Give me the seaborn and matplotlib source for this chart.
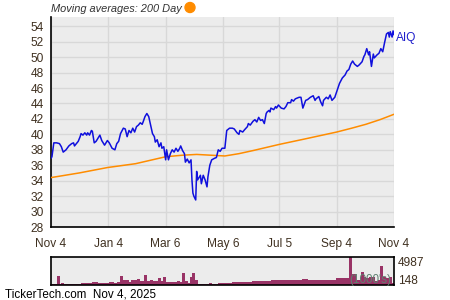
import numpy as np
import pandas as pd
import matplotlib
matplotlib.use("Agg")
import matplotlib.pyplot as plt
import matplotlib.dates as mdates
import seaborn as sns

# ---------------- data ----------------
start_date = "2024-11-04"

price_days = [0, 1, 3, 6, 9, 11, 13, 16, 19, 22, 24, 25, 29, 31, 32, 34, 36, 38, 39, 41,
              43, 44, 46, 48, 52, 54, 57, 60, 62, 65, 68, 70, 72, 74, 77, 79, 81, 83, 85, 87,
              89, 91, 93, 95, 97, 98, 100, 102, 104, 106, 108, 110, 111, 113, 115, 117, 118, 120, 122, 123,
              125, 127, 129, 131, 133, 135, 137, 138, 140, 142, 143, 145, 147, 149, 150, 151, 152, 154, 155, 156,
              157, 159, 160, 162, 164, 166, 167, 169, 171, 174, 176, 178, 180, 182, 185, 186, 187, 190, 193, 195,
              198, 200, 201, 204, 206, 209, 210, 212, 215, 217, 219, 221, 223, 225, 227, 229, 230, 232, 233, 234,
              237, 239, 240, 242, 245, 248, 250, 252, 255, 256, 258, 260, 264, 266, 268, 271, 273, 276, 279, 281,
              282, 285, 287, 289, 290, 293, 295, 297, 299, 302, 305, 307, 310, 313, 315, 317, 319, 321, 323, 326,
              328, 331, 333, 334, 336, 338, 339, 341, 343, 344, 347, 349, 351, 353, 355, 357, 359, 360, 361, 363,
              364, 365]
price_vals = [36.9, 37.1, 38.9, 38.9, 38.8, 38.4, 37.7, 38.0, 38.5, 38.8, 38.9, 38.5, 39.1, 39.7, 40.1, 39.9, 40.2, 39.9, 40.2, 39.9,
              40.5, 40.4, 38.9, 39.1, 39.9, 39.2, 38.6, 39.2, 38.9, 38.2, 38.0, 38.8, 39.1, 40.1, 40.8, 40.7, 39.7, 40.5, 40.2, 40.8,
              40.3, 41.0, 41.2, 41.5, 41.3, 41.6, 42.3, 42.7, 42.3, 41.2, 40.1, 39.7, 39.0, 39.3, 38.4, 38.9, 38.2, 38.4, 36.7, 38.0,
              36.7, 37.5, 38.0, 37.7, 38.2, 37.8, 38.2, 38.5, 37.9, 37.5, 36.4, 36.8, 36.3, 36.7, 34.1, 32.4, 32.0, 31.5, 35.2, 34.1,
              34.3, 34.7, 33.6, 34.7, 34.1, 33.2, 34.5, 36.0, 36.7, 36.9, 37.0, 38.0, 37.8, 38.2, 38.2, 39.3, 40.5, 40.8, 40.8, 40.7,
              40.2, 40.0, 40.5, 40.3, 40.6, 41.0, 41.4, 41.2, 41.7, 41.9, 41.6, 42.2, 41.8, 41.9, 41.4, 42.7, 42.9, 43.1, 42.9, 43.4,
              43.2, 43.6, 43.4, 43.8, 43.4, 43.3, 43.6, 44.1, 44.1, 44.5, 44.3, 44.6, 44.8, 44.8, 43.4, 44.4, 44.5, 44.8, 45.0, 44.4,
              44.6, 44.9, 44.2, 43.7, 44.4, 44.8, 44.6, 45.1, 44.4, 44.8, 45.9, 46.6, 47.3, 47.7, 48.2, 48.4, 49.1, 49.5, 49.1, 48.8,
              49.0, 49.4, 50.1, 50.3, 51.1, 50.3, 50.7, 48.8, 50.4, 49.9, 50.3, 50.5, 51.1, 50.7, 51.9, 53.0, 53.2, 52.6, 53.3, 52.6,
              53.4, 52.9]

ma_days = [0, 30, 60, 90, 122, 140, 155, 170, 185, 200, 215, 243, 270, 304, 320, 335, 350, 365]
ma_vals = [34.4, 35.0, 35.7, 36.2, 37.1, 37.3, 37.4, 37.3, 37.2, 37.5, 37.9, 38.7, 39.4, 40.3, 40.8, 41.3, 41.9, 42.6]

vol_days = [0, 3, 6, 8, 10, 12, 15, 18, 21, 24, 27, 30, 33, 36, 39, 42, 45, 48, 51, 54,
            57, 60, 63, 66, 69, 72, 75, 78, 81, 84, 87, 90, 93, 96, 99, 101, 104, 107, 110, 113,
            115, 118, 121, 124, 127, 130, 133, 136, 139, 141, 144, 146, 149, 152, 155, 158, 161, 164, 167, 170,
            173, 176, 179, 182, 185, 188, 191, 194, 197, 200, 203, 206, 209, 212, 215, 218, 221, 224, 227, 230,
            233, 236, 239, 242, 245, 248, 251, 254, 257, 260, 263, 266, 269, 272, 275, 278, 281, 284, 287, 290,
            293, 296, 299, 302, 305, 308, 311, 314, 317, 319, 321, 323, 325, 328, 331, 334, 337, 340, 343, 346,
            349, 352, 355, 358, 361, 364]
vol_vals = [180, 200, 190, 1500, 180, 420, 200, 190, 210, 180, 200, 220, 360, 340, 380, 360, 480, 450, 420, 300,
            320, 300, 600, 580, 300, 480, 1500, 960, 900, 600, 900, 850, 1080, 660, 620, 1680, 780, 800, 760, 780,
            1260, 660, 1380, 600, 580, 480, 500, 780, 480, 2100, 780, 300, 1380, 2100, 900, 240, 260, 220, 240, 280,
            240, 260, 300, 320, 300, 360, 300, 480, 500, 460, 520, 480, 540, 500, 660, 620, 680, 640, 700, 660,
            680, 900, 860, 920, 880, 940, 900, 860, 920, 900, 880, 960, 1080, 1000, 900, 880, 920, 860, 900, 880,
            940, 900, 860, 900, 1260, 1200, 1260, 1240, 1200, 4987, 1980, 1980, 900, 880, 2280, 1380, 1300, 1380, 1320, 780,
            800, 3300, 1380, 1300, 1380, 300]

y_ticks = list(range(28, 55, 2))
x_tick_dates = ["2024-11-04", "2025-01-04", "2025-03-06", "2025-05-06", "2025-07-05", "2025-09-04", "2025-11-04"]
x_tick_labels = ["Nov 4", "Jan 4", "Mar 6", "May 6", "Jul 5", "Sep 4", "Nov 4"]
vol_labels = ["4987", "148"]
ticker = "AIQ"
title_text = "Moving averages: 200 Day"
footer_text = "TickerTech.com  Nov 4, 2025"

# ---------------- build frames ----------------
t0 = pd.Timestamp(start_date)
price_df = pd.DataFrame({"date": t0 + pd.to_timedelta(price_days, unit="D"), "price": price_vals})
ma_df = pd.DataFrame({"date": t0 + pd.to_timedelta(ma_days, unit="D"), "ma": ma_vals})
vol_df = pd.DataFrame({"date": t0 + pd.to_timedelta(vol_days, unit="D"), "vol": vol_vals})

sns.set_style("white")
plt.rcParams["font.family"] = ["Liberation Sans", "DejaVu Sans"]

BG = "#ececec"
GRID = "#d8d8d8"
TXT = "#3f3020"

fig = plt.figure(figsize=(4.5, 3.0), dpi=100)
ax = fig.add_axes([51 / 450, 1 - 227 / 300, 343 / 450, 210 / 300])
axv = fig.add_axes([51 / 450, 1 - 285 / 300, 343 / 450, 28.5 / 300])

for a in (ax, axv):
    a.set_facecolor(BG)

# price and moving average
sns.lineplot(data=ma_df, x="date", y="ma", ax=ax, color="#ff8c00", linewidth=1.1, zorder=3)
sns.lineplot(data=price_df, x="date", y="price", ax=ax, color="#1010dd", linewidth=1.1, zorder=4)

xmin, xmax = pd.Timestamp(x_tick_dates[0]), pd.Timestamp(x_tick_dates[-1])
ax.set_xlim(xmin, xmax)
ax.set_ylim(28, 55.2)

majors = [pd.Timestamp(d) for d in x_tick_dates]
minors = [majors[i] + (majors[i + 1] - majors[i]) / 2 for i in range(len(majors) - 1)]
ax.set_xticks(majors)
ax.set_xticklabels(x_tick_labels)
ax.set_xticks(minors, minor=True)
ax.set_yticks(y_ticks)
ax.set_yticks(list(range(28, 56)), minor=True)

ax.grid(True, which="major", color=GRID, linewidth=1.0, zorder=0)
ax.set_axisbelow(True)
ax.tick_params(axis="both", which="both", direction="in", color="black", width=0.8)
ax.tick_params(axis="x", which="both", length=3.5, pad=8, labelsize=8.6, labelcolor=TXT)
ax.tick_params(axis="y", which="both", length=2.5, pad=5, labelsize=8.6, labelcolor=TXT)
for s in ("top", "right"):
    ax.spines[s].set_visible(False)
for s in ("left", "bottom"):
    ax.spines[s].set_color("black")
    ax.spines[s].set_linewidth(1.2)
ax.set_xlabel("")
ax.set_ylabel("")

ax.text(1.007, 1 - (38 - 17) / 210, ticker, transform=ax.transAxes, ha="left", va="center",
        color="#2020cc", fontsize=8.6)
ax.text(0.0, (17 - 9.5) / 210 + 1.0, title_text, transform=ax.transAxes, ha="left", va="center",
        fontsize=7.9, style="italic", color="#333333")
fig.patches.append(matplotlib.patches.Ellipse((190 / 450, 1 - 7.5 / 300), 10 / 450, 10 / 300,
                                              transform=fig.transFigure, color="#ff8c00"))

# volume
axv.bar(vol_df["date"], vol_df["vol"], width=3.1, color="#993366", linewidth=0,
        align="center", zorder=2)
axv.set_xlim(xmin, xmax)
axv.set_ylim(0, 4987)
axv.set_xticks([])
axv.set_yticks([])
for s in axv.spines.values():
    s.set_color("black")
    s.set_linewidth(1.2)
axv.text(1.011, (285 - 263) / 28.5, vol_labels[0], transform=axv.transAxes, ha="left", va="center",
         fontsize=8.6, color=TXT)
axv.text(1.011, (285 - 281.5) / 28.5, vol_labels[1], transform=axv.transAxes, ha="left", va="center",
         fontsize=8.6, color=TXT)
axv.text(0.93, (285 - 280.5) / 28.5, "(1000's)", transform=axv.transAxes, ha="center", va="center",
         fontsize=8.4, color="#5f8070", zorder=5)

fig.text(5 / 450, 1 - 294.5 / 300, footer_text, ha="left", va="center", fontsize=8.4, color="black")

fig.savefig("out.png", dpi=100)
